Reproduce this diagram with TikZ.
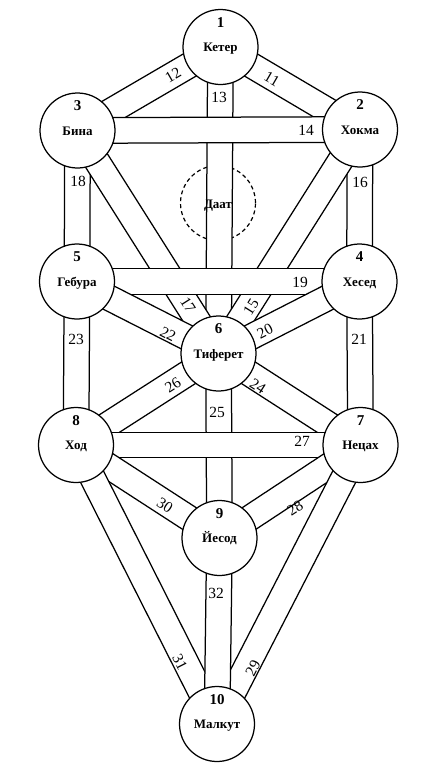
\documentclass[tikz,border=0pt]{standalone}
\usepackage{fontspec}
\setmainfont{Liberation Serif}
\usetikzlibrary{calc}
\tikzset{
  band/.style={fill=white,draw=black,line width=1.25pt,line join=miter},
  sefira/.style={circle,draw=black,fill=white,line width=1.25pt,minimum size=75pt,inner sep=0pt},
  num/.style={font=\fontsize{15}{15}\selectfont\bfseries,anchor=base,inner sep=0pt},
  sname/.style={font=\fontsize{13}{14}\selectfont\bfseries,anchor=base,inner sep=0pt},
  plabel/.style={font=\fontsize{15.5}{16}\selectfont,inner sep=0pt},
}
\newcommand\bandpath[2]{\path[band] ($(#1)!12.8pt!90:(#2)$) -- ($(#2)!12.8pt!-90:(#1)$) -- ($(#2)!12.8pt!90:(#1)$) -- ($(#1)!12.8pt!-90:(#2)$) -- cycle;}
\newcommand\sefnode[4]{%
  \node[sefira] (s#1) at (#2) {};
  \node[num] (n#1) at ([yshift=20pt]s#1.center) {#3};
  \node[sname] (t#1) at ([yshift=-4.5pt]s#1.center) {#4};}
\begin{document}
\begin{tikzpicture}[x=1pt,y=-1pt]
\useasboundingbox (0,0) rectangle (437,774);
\fill[white] (0,0) rectangle (437,774);
% centres
\coordinate (c1) at (220.5,47);
\coordinate (c2) at (360,129.5);
\coordinate (c3) at (77.5,130.5);
\coordinate (cd) at (218,203);
\coordinate (c4) at (359.5,281.5);
\coordinate (c5) at (77,281.5);
\coordinate (c6) at (218.5,353.5);
\coordinate (c7) at (360.5,445);
\coordinate (c8) at (76,445);
\coordinate (c9) at (219.5,538);
\coordinate (c10) at (217,724);
% Daat
\draw[dash pattern=on 4pt off 3pt,line width=1.2pt] (cd) circle (37.5pt);
% paths
\bandpath{c1}{c6}
\bandpath{c1}{c3}
\bandpath{c1}{c2}
\bandpath{c3}{c2}
\bandpath{c3}{c5}
\bandpath{c2}{c4}
\bandpath{c3}{c6}
\bandpath{c2}{c6}
\bandpath{c5}{c4}
\bandpath{c5}{c6}
\bandpath{c4}{c6}
\bandpath{c5}{c8}
\bandpath{c4}{c7}
\bandpath{c8}{c6}
\bandpath{c7}{c6}
\bandpath{c6}{c9}
\bandpath{c8}{c7}
\bandpath{c8}{c9}
\bandpath{c7}{c9}
\bandpath{c8}{c10}
\bandpath{c7}{c10}
\bandpath{c9}{c10}
\node[sname] (td) at ([yshift=-5pt]cd) {Даат};
% sefirot
\sefnode{1}{c1}{1}{Кетер}
\sefnode{2}{c2}{2}{Хокма}
\sefnode{3}{c3}{3}{Бина}
\sefnode{4}{c4}{4}{Хесед}
\sefnode{5}{c5}{5}{Гебура}
\sefnode{6}{c6}{6}{Тиферет}
\sefnode{7}{c7}{7}{Нецах}
\sefnode{8}{c8}{8}{Ход}
\sefnode{9}{c9}{9}{Йесод}
\sefnode{10}{c10}{10}{Малкут}
% path numbers
\node[plabel,rotate=30] (p12) at (173,75) {12};
\node[plabel,rotate=-30] (p11) at (272,79) {11};
\node[plabel] (p13) at (219,97) {13};
\node[plabel] (p14) at (306,130) {14};
\node[plabel] (p18) at (78,181) {18};
\node[plabel] (p16) at (360,182) {16};
\node[plabel] (p19) at (300,282) {19};
\node[plabel,rotate=-57.6] (p17) at (188,305) {17};
\node[plabel,rotate=57.8] (p15) at (251,307) {15};
\node[plabel,rotate=-27] (p22) at (168,334) {22};
\node[plabel,rotate=27] (p20) at (265,331) {20};
\node[plabel] (p23) at (76,339) {23};
\node[plabel] (p21) at (359,339) {21};
\node[plabel,rotate=32.5] (p26) at (173,385) {26};
\node[plabel,rotate=-32.8] (p24) at (258,386) {24};
\node[plabel] (p25) at (217,412) {25};
\node[plabel] (p27) at (302,441) {27};
\node[plabel,rotate=-33] (p30) at (165,505) {30};
\node[plabel,rotate=33] (p28) at (295,508) {28};
\node[plabel] (p32) at (216,593) {32};
\node[plabel,rotate=-63] (p31) at (180,662) {31};
\node[plabel,rotate=63] (p29) at (253,668) {29};
\end{tikzpicture}
\end{document}
